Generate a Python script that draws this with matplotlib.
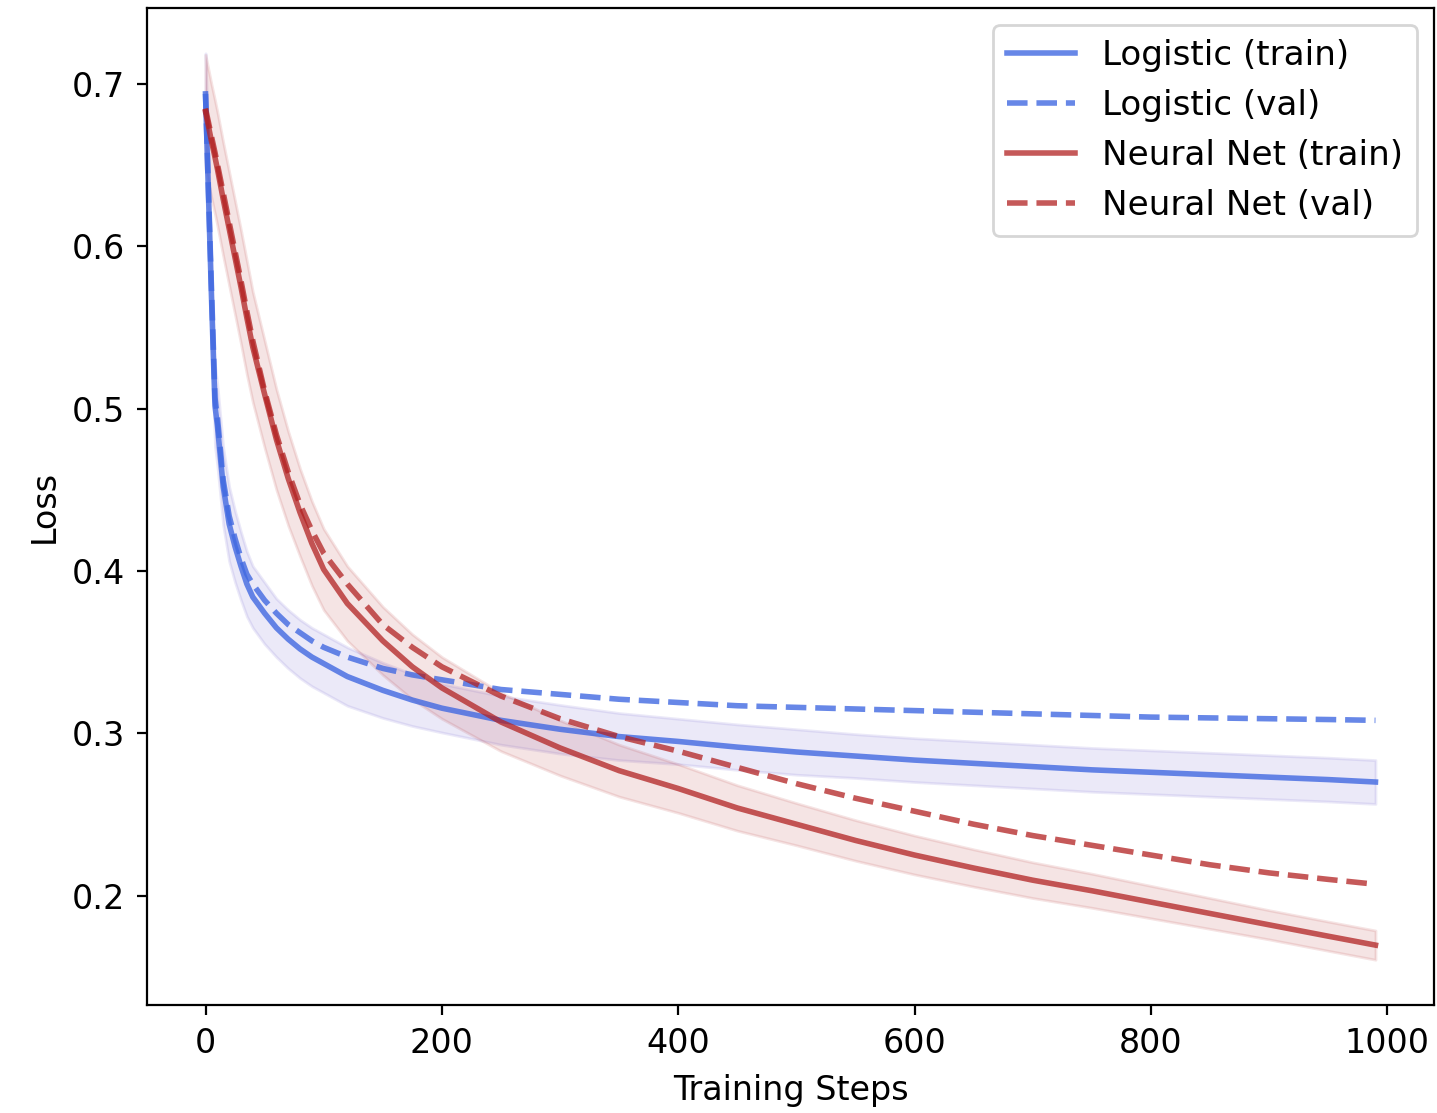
import numpy as np
import matplotlib
matplotlib.use("Agg")
import matplotlib.pyplot as plt

steps = [0, 5, 8, 10, 15, 20, 25, 30, 35, 40, 50, 60, 70, 80, 90, 100, 120, 150, 175, 200,
         250, 300, 350, 400, 450, 500, 550, 600, 650, 700, 750, 800, 850, 900, 950, 990]

# logistic regression
log_train = [0.694, 0.570, 0.502, 0.490, 0.452, 0.429, 0.415, 0.403, 0.392, 0.384, 0.374,
             0.365, 0.358, 0.352, 0.347, 0.343, 0.335, 0.3265, 0.3205, 0.3155, 0.308, 0.3025,
             0.298, 0.295, 0.2915, 0.2885, 0.286, 0.2835, 0.2815, 0.2795, 0.2775, 0.276,
             0.2745, 0.273, 0.2715, 0.270]
log_val = [0.694, 0.575, 0.507, 0.495, 0.456, 0.434, 0.420, 0.408, 0.398, 0.392, 0.382,
           0.374, 0.367, 0.362, 0.357, 0.353, 0.347, 0.340, 0.336, 0.333, 0.327, 0.324,
           0.321, 0.319, 0.317, 0.316, 0.315, 0.314, 0.313, 0.312, 0.311, 0.310, 0.3095,
           0.309, 0.3085, 0.308]
log_std = [0.025, 0.025, 0.025, 0.025, 0.024, 0.023, 0.022, 0.021, 0.020, 0.019, 0.019,
           0.018, 0.018, 0.018, 0.018, 0.018, 0.018, 0.017, 0.016, 0.015, 0.015, 0.015,
           0.0145, 0.014, 0.014, 0.014, 0.0135, 0.0135, 0.0135, 0.0135, 0.0135, 0.0135,
           0.0135, 0.0135, 0.0135, 0.0135]

# neural net
nn_train = [0.683, 0.665, 0.655, 0.648, 0.629, 0.611, 0.593, 0.575, 0.556, 0.538, 0.509,
            0.481, 0.457, 0.436, 0.417, 0.401, 0.380, 0.357, 0.341, 0.328, 0.307, 0.291,
            0.277, 0.266, 0.254, 0.244, 0.234, 0.225, 0.217, 0.2095, 0.203, 0.196, 0.189,
            0.182, 0.175, 0.1695]
nn_val = [0.685, 0.668, 0.658, 0.651, 0.633, 0.615, 0.597, 0.579, 0.560, 0.542, 0.511,
          0.484, 0.461, 0.441, 0.425, 0.411, 0.392, 0.367, 0.353, 0.341, 0.323, 0.309,
          0.298, 0.289, 0.279, 0.269, 0.260, 0.252, 0.244, 0.237, 0.231, 0.225, 0.219,
          0.214, 0.210, 0.207]
nn_std = [0.035, 0.035, 0.035, 0.035, 0.035, 0.035, 0.035, 0.035, 0.035, 0.034, 0.033,
          0.031, 0.029, 0.027, 0.026, 0.025, 0.023, 0.021, 0.020, 0.019, 0.018, 0.017,
          0.016, 0.015, 0.014, 0.013, 0.0125, 0.012, 0.0115, 0.011, 0.0105, 0.010,
          0.0095, 0.009, 0.009, 0.009]

x = np.array(steps)
blue = "royalblue"
red = "firebrick"

plt.rcParams["font.size"] = 12
plt.rcParams["xtick.major.pad"] = 4.5
plt.rcParams["ytick.major.pad"] = 4.5

fig = plt.figure(figsize=(7.185, 5.565), dpi=200)
ax = fig.add_axes([0.1023, 0.097, 0.8956, 0.8958])

lt = np.array(log_train)
ls = np.array(log_std)
ax.fill_between(x, lt - ls, lt + ls, color="slateblue", alpha=0.13)
ax.plot(x, lt, color=blue, alpha=0.8, lw=2, label="Logistic (train)")
ax.plot(x, log_val, color=blue, alpha=0.8, lw=2, ls="--", label="Logistic (val)")

nt = np.array(nn_train)
ns = np.array(nn_std)
ax.fill_between(x, nt - ns, nt + ns, color=red, alpha=0.12)
ax.plot(x, nt, color=red, alpha=0.75, lw=2, label="Neural Net (train)")
ax.plot(x, nn_val, color=red, alpha=0.75, lw=2, ls="--", label="Neural Net (val)")

ax.set_xlabel("Training Steps", labelpad=5)
ax.set_ylabel("Loss")
ax.set_yticks([0.2, 0.3, 0.4, 0.5, 0.6, 0.7])
ax.legend(loc="upper right", fontsize=12.3)

fig.savefig("out.png", dpi=200)
